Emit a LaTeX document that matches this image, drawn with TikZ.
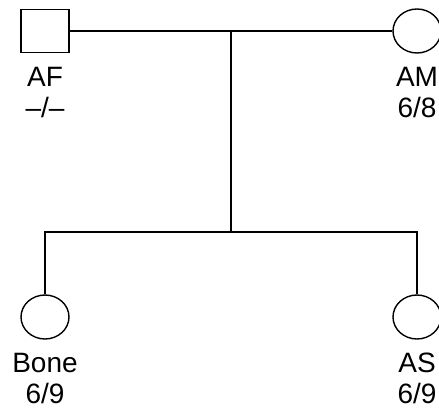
\documentclass[tikz,border=0pt]{standalone}
\usepackage{fontspec}
\setmainfont{Liberation Sans}
\usetikzlibrary{shapes.geometric,calc}
\begin{document}
\begin{tikzpicture}[x=1pt,y=-1pt,
  line width=1.4pt,
  male/.style={draw,rectangle,minimum width=48pt,minimum height=43pt,inner sep=0pt},
  female/.style={draw,ellipse,minimum width=48pt,minimum height=44pt,inner sep=0pt},
  lbl/.style={anchor=base,inner sep=0pt,font=\fontsize{28}{31}\selectfont}]
\useasboundingbox (0,0) rectangle (439,412);
\node[male] (AF) at (45,31) {};
\node[female] (AM) at (417,31) {};
\node[female] (Bone) at (45,317) {};
\node[female] (AS) at (417,317) {};
\node[lbl] (AFn) at (45,86.5) {AF};
\node[lbl] (AFg) at (45,117.5) {–/–};
\node[lbl] (AMn) at (417,86.5) {AM};
\node[lbl] (AMg) at (417,117.5) {6/8};
\node[lbl] (Bn) at (45,372) {Bone};
\node[lbl] (Bg) at (45,403) {6/9};
\node[lbl] (ASn) at (417,372) {AS};
\node[lbl] (ASg) at (417,403) {6/9};
\coordinate (m) at ($(AF.east)!0.5!(AM.west)$);
\coordinate (s) at ($(m)+(0,201)$);
\draw (AF.east) -- (AM.west);
\draw (m) -- (s);
\draw (Bone.north) |- (s) -| (AS.north);
\end{tikzpicture}
\end{document}
